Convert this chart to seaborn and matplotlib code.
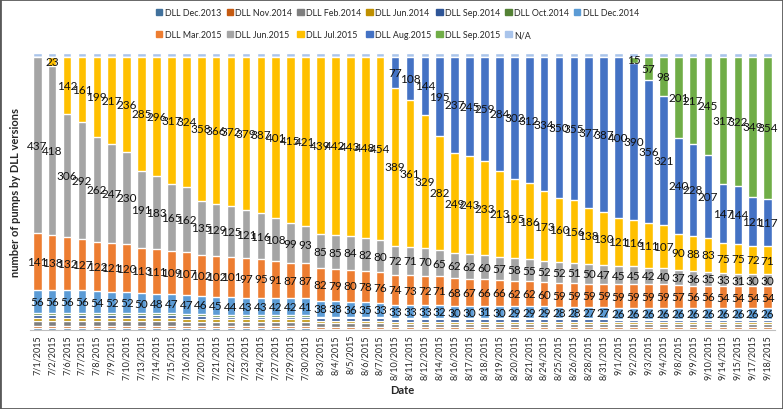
import numpy as np
import pandas as pd
import seaborn as sns
import matplotlib
matplotlib.use("Agg")
from matplotlib import pyplot as plt
from matplotlib import patches as mpatches

dates = ["7/1/2015", "7/2/2015", "7/6/2015", "7/7/2015", "7/8/2015", "7/9/2015", "7/10/2015",
         "7/13/2015", "7/14/2015", "7/15/2015", "7/16/2015", "7/20/2015", "7/21/2015", "7/22/2015",
         "7/23/2015", "7/24/2015", "7/27/2015", "7/29/2015", "7/30/2015",
         "8/3/2015", "8/4/2015", "8/5/2015", "8/6/2015", "8/7/2015", "8/10/2015", "8/11/2015",
         "8/12/2015", "8/14/2015", "8/16/2015", "8/17/2015", "8/18/2015", "8/19/2015", "8/20/2015",
         "8/21/2015", "8/24/2015", "8/25/2015", "8/26/2015", "8/28/2015", "8/31/2015",
         "9/1/2015", "9/2/2015", "9/3/2015", "9/4/2015", "9/8/2015", "9/9/2015", "9/10/2015",
         "9/14/2015", "9/15/2015", "9/17/2015", "9/18/2015"]

# small older versions (estimated from the thin bottom bands)
dec2013 = [4, 4, 4, 4, 4, 4, 4, 4, 4, 4, 4, 4, 4, 4, 4, 4, 4, 4, 4,
           3, 3, 3, 3, 3, 3, 3, 3, 3, 3, 3, 3, 3, 3, 3, 3, 3, 3, 3, 3,
           3, 3, 3, 3, 3, 3, 3, 3, 3, 3, 3]
nov2014 = [6, 6, 6, 6, 6, 6, 6, 6, 6, 6, 5, 5, 5, 5, 5, 5, 5, 5, 5,
           5, 5, 5, 5, 5, 4, 4, 4, 4, 4, 4, 4, 4, 4, 4, 4, 4, 4, 4, 4,
           4, 4, 4, 4, 4, 4, 4, 4, 4, 4, 4]
feb2014 = [12, 12, 12, 12, 12, 12, 11, 11, 11, 11, 11, 11, 10, 10, 10, 10, 10, 10, 10,
           9, 9, 9, 9, 9, 8, 8, 8, 8, 8, 8, 8, 8, 8, 8, 8, 8, 8, 8, 8,
           7, 7, 7, 7, 7, 7, 7, 7, 7, 7, 7]
jun2014 = [8, 8, 8, 8, 8, 8, 8, 8, 8, 8, 7, 7, 7, 7, 7, 7, 7, 7, 7,
           6, 6, 6, 6, 6, 5, 5, 5, 5, 5, 5, 5, 5, 5, 5, 5, 5, 5, 5, 5,
           5, 5, 5, 5, 5, 5, 5, 5, 5, 5, 5]
sep2014 = [8, 8, 8, 8, 8, 8, 8, 8, 8, 8, 8, 8, 7, 7, 7, 7, 7, 7, 7,
           7, 7, 7, 7, 7, 6, 6, 6, 6, 6, 6, 6, 6, 6, 6, 6, 6, 6, 6, 6,
           6, 6, 6, 6, 6, 6, 6, 6, 6, 6, 6]
oct2014 = [4, 4, 4, 4, 4, 4, 4, 4, 4, 4, 4, 4, 4, 4, 4, 4, 4, 4, 4,
           3, 3, 3, 3, 3, 3, 3, 3, 3, 3, 3, 3, 3, 3, 3, 3, 3, 3, 3, 3,
           3, 3, 3, 3, 3, 3, 3, 3, 3, 3, 3]
dec2014 = [56, 56, 56, 56, 54, 52, 52, 50, 48, 47, 47, 46, 45, 44, 43, 43, 42, 42, 41,
           38, 38, 36, 35, 33, 33, 33, 33, 32, 30, 30, 31, 30, 29, 29, 29, 28, 28, 27, 27,
           26, 26, 26, 26, 26, 26, 26, 26, 26, 26, 26]
mar2015 = [141, 138, 132, 127, 122, 121, 120, 113, 111, 109, 107, 102, 102, 101, 97, 95, 91, 87, 87,
           82, 79, 80, 78, 76, 74, 73, 72, 71, 68, 67, 66, 66, 62, 62, 60, 59, 59, 59, 59,
           59, 59, 59, 59, 57, 56, 56, 54, 54, 54, 54]
jun2015 = [437, 418, 306, 292, 262, 247, 230, 191, 183, 165, 162, 135, 129, 125, 121, 116, 108, 99, 93,
           85, 85, 84, 82, 80, 72, 71, 70, 65, 62, 62, 60, 57, 58, 55, 52, 52, 51, 50, 47,
           45, 45, 42, 40, 37, 36, 35, 33, 31, 30, 30]
jul2015 = [0, 23, 142, 161, 199, 217, 236, 285, 296, 317, 324, 358, 366, 372, 379, 387, 401, 415, 421,
           439, 442, 443, 448, 454, 389, 361, 329, 282, 249, 243, 233, 213, 195, 186, 173, 160, 156, 138, 130,
           121, 116, 111, 107, 90, 88, 83, 75, 75, 72, 71]
aug2015 = [0, 0, 0, 0, 0, 0, 0, 0, 0, 0, 0, 0, 0, 0, 0, 0, 0, 0, 0,
           0, 0, 0, 0, 0, 77, 108, 144, 195, 237, 245, 259, 284, 302, 312, 334, 350, 355, 377, 387,
           400, 390, 356, 321, 240, 228, 207, 147, 144, 121, 117]
sep2015 = [0, 0, 0, 0, 0, 0, 0, 0, 0, 0, 0, 0, 0, 0, 0, 0, 0, 0, 0,
           0, 0, 0, 0, 0, 0, 0, 0, 0, 0, 0, 0, 0, 0, 0, 0, 0, 0, 0, 0,
           0, 15, 57, 98, 201, 217, 245, 317, 322, 349, 354]
na = [9, 9, 9, 9, 9, 9, 9, 9, 9, 9, 9, 9, 9, 9, 9, 9, 9, 9, 9,
      9, 9, 9, 9, 9, 9, 9, 9, 9, 9, 9, 9, 9, 9, 9, 9, 9, 9, 9, 9,
      9, 9, 9, 9, 9, 9, 9, 9, 9, 9, 9]

series = ["DLL Dec.2013", "DLL Nov.2014", "DLL Feb.2014", "DLL Jun.2014", "DLL Sep.2014",
          "DLL Oct.2014", "DLL Dec.2014", "DLL Mar.2015", "DLL Jun.2015", "DLL Jul.2015",
          "DLL Aug.2015", "DLL Sep.2015", "N/A"]
values = [dec2013, nov2014, feb2014, jun2014, sep2014, oct2014, dec2014,
          mar2015, jun2015, jul2015, aug2015, sep2015, na]
colors = ["#41719C", "#C55A11", "#7F7F7F", "#BF9000", "#2F5597", "#548235", "#5B9BD5",
          "#ED7D31", "#A5A5A5", "#FFC000", "#4472C4", "#70AD47", "#A9C4EB"]
labelled = ["DLL Dec.2014", "DLL Mar.2015", "DLL Jun.2015", "DLL Jul.2015",
            "DLL Aug.2015", "DLL Sep.2015"]

sns.set_style("white")
plt.rcParams["font.family"] = ["Lato", "DejaVu Sans"]

table = pd.DataFrame(dict(zip(series, values)), index=dates)
share = table.div(table.sum(axis=1), axis=0) * 100
top = share.cumsum(axis=1)

fig = plt.figure(figsize=(7.83, 4.10), dpi=100)
ax = fig.add_axes([0.038, 0.193, 0.952, 0.675])

# draw cumulative layers, tallest first, so each lower layer covers the one above
for name, col in reversed(list(zip(series, colors))):
    sns.barplot(x=dates, y=top[name].values, color=col, width=0.58,
                saturation=1, ax=ax, order=dates)

for name in labelled:
    for i, d in enumerate(dates):
        v = table.loc[d, name]
        if v > 0:
            ymid = top.loc[d, name] - share.loc[d, name] / 2
            ax.text(i, ymid, str(v), ha="center", va="center", fontsize=8.5, color="#111111")

ax.set_ylim(0, 100)
ax.set_xlim(-0.5, len(dates) - 0.5)
ax.set_yticks([])
ax.tick_params(axis="x", labelrotation=90, labelsize=6.5, length=0, pad=3)
for s in ["top", "right", "left"]:
    ax.spines[s].set_visible(False)
ax.spines["bottom"].set_color("#BFBFBF")
ax.set_xlabel("Date", fontsize=8, fontweight="bold", labelpad=4)
ax.set_ylabel("number of pumps by DLL versions", fontsize=8, fontweight="bold", labelpad=6)

# legend: 7 columns, two rows filled row by row (matplotlib fills column-wise)
handles = [mpatches.Patch(color=c, label=s) for s, c in zip(series, colors)]
row1, row2 = handles[:7], handles[7:]
ordered = []
for i in range(7):
    ordered.append(row1[i])
    if i < len(row2):
        ordered.append(row2[i])
fig.legend(handles=ordered, ncol=7, loc="center", bbox_to_anchor=(0.508, 0.94),
           frameon=False, fontsize=6.4, handlelength=0.7, handleheight=0.7,
           handletextpad=0.3, columnspacing=0.55, labelspacing=1.5)

fig.add_artist(mpatches.Rectangle((0, 0), 1, 1, transform=fig.transFigure, fill=False,
                                  edgecolor="#595959", linewidth=2))

plt.savefig("out.png", dpi=100)
